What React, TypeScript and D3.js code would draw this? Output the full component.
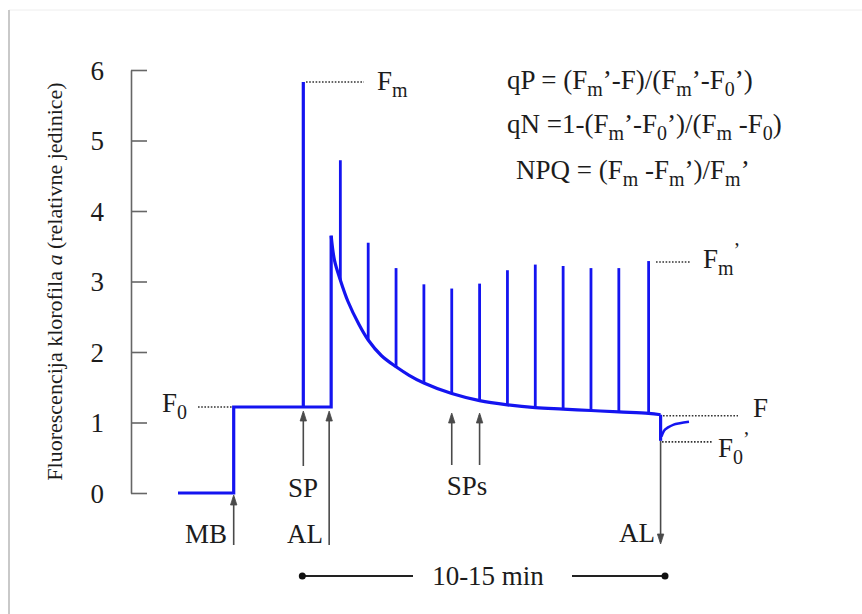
import React, { useEffect, useRef } from "react";
import * as d3 from "d3";

// ---------- data ----------
const yTicks = [0, 1, 2, 3, 4, 5, 6];
const F0 = 1.22; // minimal fluorescence (dark adapted)
const FM = 5.83; // maximal fluorescence
const F0P = 0.74; // F0'
const tStart = -5.5;
const tMB = -3.5;
const tSP = -1;
const tAL = 0;
const tALoff = 11.83;
const tEnd = 12.85;

const decayT = [0, 0.12, 0.33, 0.6, 1.0, 1.33, 1.8, 2.33, 2.8, 3.33, 4.33, 5.33, 6.33, 7.33, 8.33, 9.33, 10.33, 11.4, 11.83];
const decayF = [3.65, 3.3, 3.02, 2.72, 2.39, 2.17, 1.95, 1.79, 1.67, 1.56, 1.41, 1.31, 1.25, 1.21, 1.19, 1.17, 1.15, 1.13, 1.11];

const pulseT = [0.33, 1.33, 2.33, 3.33, 4.33, 5.33, 6.33, 7.33, 8.33, 9.33, 10.33, 11.4];
const pulseBase = [3.02, 2.17, 1.79, 1.56, 1.41, 1.31, 1.25, 1.21, 1.19, 1.17, 1.15, 1.13];
const pulseTop = [4.72, 3.55, 3.19, 2.96, 2.9, 2.97, 3.16, 3.24, 3.22, 3.19, 3.19, 3.29];

const recoveryT = [11.86, 11.95, 12.1, 12.3, 12.52, 12.85];
const recoveryF = [0.8, 0.88, 0.93, 0.97, 0.99, 1.01];

const yLabel = "Fluorescencija klorofila";
const yLabelItalic = "a";
const yLabelRest = "(relativne jedinice)";
const spanLabel = "10-15 min";

// ---------- layout ----------
const W = 862;
const H = 614;
const BLUE = "#1414f0";
const INK = "#1c1c1c";
const GREY = "#4a4a4a";
const FONT = "'Liberation Serif', 'Times New Roman', serif";

const x = d3.scaleLinear().domain([tStart, tEnd]).range([178, 689]);
const y = d3.scaleLinear().domain([0, 6]).range([493, 70]);

type Part = [string, "n" | "sub" | "sup"];

function Rich({ px, py, parts, size, anchor = "start" }: { px: number; py: number; parts: Part[]; size: number; anchor?: string }) {
  let cur = 0;
  const spans = parts.map((p, i) => {
    const target = p[1] === "sub" ? size * 0.26 : p[1] === "sup" ? -size * 0.42 : 0;
    const dy = target - cur;
    cur = target;
    const fs = p[1] === "n" ? size : size * 0.74;
    return (
      <tspan key={i} dy={dy} fontSize={fs}>
        {p[0]}
      </tspan>
    );
  });
  return (
    <text x={px} y={py} fontSize={size} fontFamily={FONT} fill={INK} textAnchor={anchor} style={{ whiteSpace: "pre" }}>
      {spans}
    </text>
  );
}

function Arrow({ ax, y1, y2 }: { ax: number; y1: number; y2: number }) {
  const dir = y2 < y1 ? 1 : -1;
  return (
    <g>
      <line x1={ax} x2={ax} y1={y1} y2={y2 + dir * 2} stroke={GREY} strokeWidth={1.6} />
      <path
        d={`M${ax - 3.2},${y2 + dir * 10} L${ax},${y2} L${ax + 3.2},${y2 + dir * 10} Z`}
        fill={GREY}
        stroke={GREY}
        strokeWidth={0.8}
      />
    </g>
  );
}

function Dotted({ x1, x2, yy }: { x1: number; x2: number; yy: number }) {
  return <line x1={x1} x2={x2} y1={yy} y2={yy} stroke="#333" strokeWidth={1.6} strokeDasharray="1.6 1.6" />;
}

export default function App() {
  const axisRef = useRef<SVGGElement>(null);

  useEffect(() => {
    if (!axisRef.current) return;
    const g = d3.select(axisRef.current);
    g.call(d3.axisLeft(y).tickValues(yTicks).tickFormat(d3.format("d")).tickSizeInner(-16).tickSizeOuter(0).tickPadding(27));
    g.select(".domain").attr("stroke", "#666").attr("stroke-width", 1.6);
    g.selectAll(".tick line").attr("stroke", "#666").attr("stroke-width", 1.6);
    g.selectAll(".tick text").attr("font-size", 27).attr("font-family", FONT).attr("fill", INK).attr("dy", "0.34em");
  }, []);

  const stepLine = d3
    .line<[number, number]>()
    .x((d) => x(d[0]))
    .y((d) => y(d[1]));

  const prePath = stepLine([
    [tStart, 0],
    [tMB, 0],
    [tMB, F0],
    [tSP, F0],
    [tSP, FM],
    [tSP, F0],
    [tAL, F0],
    [tAL, decayF[0]],
  ]);

  const decayLine = d3
    .line<number>()
    .x((_, i) => x(decayT[i]))
    .y((d) => y(d))
    .curve(d3.curveCatmullRom.alpha(0.5));

  const recLine = d3
    .line<number>()
    .x((_, i) => x(recoveryT[i]))
    .y((d) => y(d))
    .curve(d3.curveMonotoneX);

  const dropPath = stepLine([
    [tALoff, decayF[decayF.length - 1]],
    [tALoff, F0P],
  ]);

  const fs = 27;

  return (
    <svg width={W} height={H} style={{ position: "absolute", left: 0, top: 0, background: "#fff" }}>
      <rect width={W} height={H} fill="#fff" />
      {/* frame */}
      <line x1={9} x2={W} y1={10} y2={10} stroke="#eeeeee" strokeWidth={1} />
      <line x1={9} x2={9} y1={10} y2={H} stroke="#c9c9c9" strokeWidth={2} />

      {/* y axis */}
      <g ref={axisRef} transform={`translate(131,0)`} />
      <text
        transform={`translate(62,${(y(0) + y(6)) / 2}) rotate(-90)`}
        textAnchor="middle"
        fontSize={22}
        fontFamily={FONT}
        fill={INK}
        style={{ whiteSpace: "pre" }}
      >
        {yLabel + " "}
        <tspan fontStyle="italic">{yLabelItalic}</tspan>
        {" " + yLabelRest}
      </text>

      {/* dotted reference lines */}
      <Dotted x1={306} x2={364} yy={y(FM)} />
      <Dotted x1={198} x2={232} yy={y(F0)} />
      <Dotted x1={656} x2={690} yy={y(pulseTop[pulseTop.length - 1]) + 1} />
      <Dotted x1={663} x2={738} yy={y(decayF[decayF.length - 1]) + 1} />
      <Dotted x1={662} x2={712} yy={y(F0P) + 1} />

      {/* fluorescence trace */}
      <g fill="none" stroke={BLUE} strokeWidth={3.2} strokeLinejoin="miter">
        <path d={prePath || ""} />
        <path d={decayLine(decayF) || ""} />
        {pulseT.map((t, i) => (
          <line key={i} x1={x(t)} x2={x(t)} y1={y(pulseBase[i])} y2={y(pulseTop[i])} strokeWidth={2.8} />
        ))}
        <path d={dropPath || ""} />
        <path d={recLine(recoveryF) || ""} strokeWidth={2.6} />
      </g>

      {/* level labels */}
      <Rich px={377} py={90} size={fs} parts={[["F", "n"], ["m", "sub"]]} />
      <Rich px={162} py={412} size={fs} parts={[["F", "n"], ["0", "sub"]]} />
      <Rich px={703} py={268} size={fs} parts={[["F", "n"], ["m", "sub"], ["’", "sup"]]} />
      <Rich px={753} py={417} size={fs} parts={[["F", "n"]]} />
      <Rich px={718} py={457} size={fs} parts={[["F", "n"], ["0", "sub"], ["’", "sup"]]} />

      {/* formulas */}
      <Rich
        px={507}
        py={89}
        size={fs}
        parts={[
          ["qP = (F", "n"],
          ["m", "sub"],
          ["’-F)/(F", "n"],
          ["m", "sub"],
          ["’-F", "n"],
          ["0", "sub"],
          ["’)", "n"],
        ]}
      />
      <Rich
        px={507}
        py={133}
        size={fs}
        parts={[
          ["qN =1-(F", "n"],
          ["m", "sub"],
          ["’-F", "n"],
          ["0", "sub"],
          ["’)/(F", "n"],
          ["m", "sub"],
          [" -F", "n"],
          ["0", "sub"],
          [")", "n"],
        ]}
      />
      <Rich
        px={516}
        py={179}
        size={fs}
        parts={[
          ["NPQ = (F", "n"],
          ["m", "sub"],
          [" -F", "n"],
          ["m", "sub"],
          ["’)/F", "n"],
          ["m", "sub"],
          ["’", "n"],
        ]}
      />

      {/* event arrows */}
      <Arrow ax={x(tMB)} y1={545} y2={495} />
      <Arrow ax={x(tSP)} y1={466} y2={411} />
      <Arrow ax={x(tAL) - 2} y1={545} y2={411} />
      <Arrow ax={x(4.33)} y1={465} y2={413} />
      <Arrow ax={x(5.33)} y1={465} y2={413} />
      <Arrow ax={x(tALoff)} y1={y(F0P)} y2={544} />

      <Rich px={206} py={543} size={fs} anchor="middle" parts={[["MB", "n"]]} />
      <Rich px={303} py={497} size={fs} anchor="middle" parts={[["SP", "n"]]} />
      <Rich px={305} py={543} size={fs} anchor="middle" parts={[["AL", "n"]]} />
      <Rich px={467} py={495} size={fs} anchor="middle" parts={[["SPs", "n"]]} />
      <Rich px={637} py={542} size={fs} anchor="middle" parts={[["AL", "n"]]} />

      {/* duration bar */}
      <g stroke="#222" strokeWidth={1.8}>
        <line x1={x(tSP) - 1} x2={413} y1={576} y2={576} />
        <line x1={572} x2={665} y1={576} y2={576} />
      </g>
      <circle cx={x(tSP) - 1} cy={576} r={3.5} fill="#111" />
      <circle cx={665} cy={576} r={3.5} fill="#111" />
      <text x={488} y={585} textAnchor="middle" fontSize={fs} fontFamily={FONT} fill={INK}>
        {spanLabel}
      </text>
    </svg>
  );
}
